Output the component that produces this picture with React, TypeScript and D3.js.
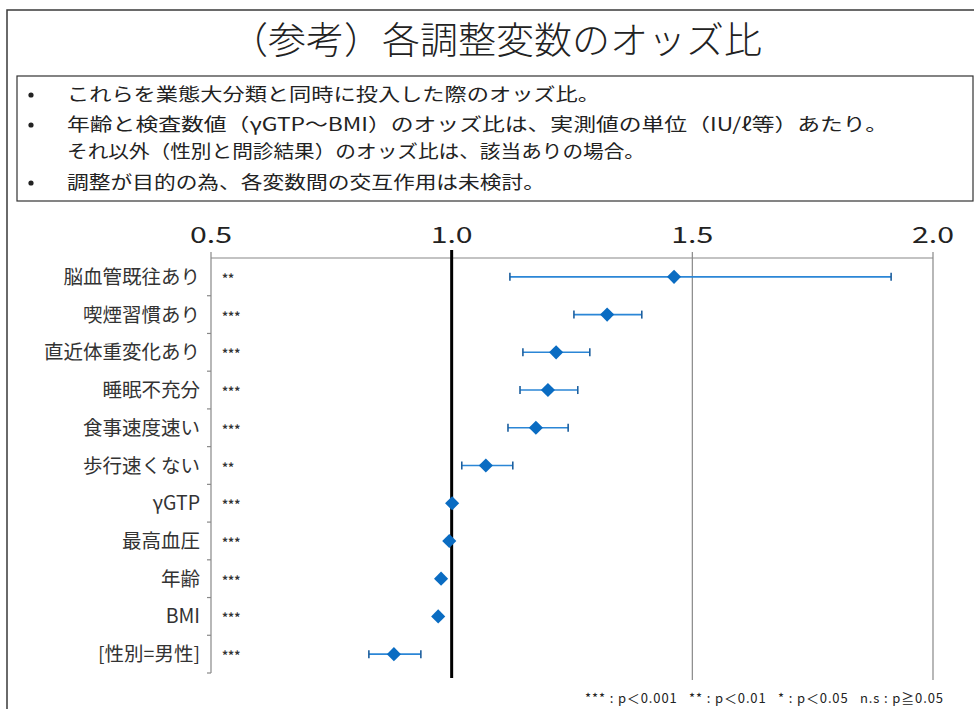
import React from 'react';
import * as d3 from 'd3';

// categories, top to bottom
const categories = [
  '脳血管既往あり', '喫煙習慣あり', '直近体重変化あり', '睡眠不充分', '食事速度速い',
  '歩行速くない', 'γGTP', '最高血圧', '年齢', 'BMI', '[性別=男性]'
];
const oddsRatio = [1.462, 1.323, 1.217, 1.200, 1.175, 1.071, 1.001, 0.995, 0.978, 0.972, 0.880];
const lowerCI = [1.121, 1.254, 1.148, 1.142, 1.117, 1.021, null, null, null, null, 0.828];
const upperCI = [1.913, 1.395, 1.287, 1.262, 1.242, 1.127, null, null, null, null, 0.936];
const signif = ['**', '***', '***', '***', '***', '**', '***', '***', '***', '***', '***'];
const xTicks = [0.5, 1.0, 1.5, 2.0];

const title = '（参考）各調整変数のオッズ比';
const notes = [
  { bullet: true, text: 'これらを業態大分類と同時に投入した際のオッズ比。', len: 533 },
  { bullet: true, text: '年齢と検査数値（γGTP～BMI）のオッズ比は、実測値の単位（IU/ℓ等）あたり。', len: 821 },
  { bullet: false, text: 'それ以外（性別と問診結果）のオッズ比は、該当ありの場合。', len: 578 },
  { bullet: true, text: '調整が目的の為、各変数間の交互作用は未検討。', len: 478 }
];
const noteY = [101, 131, 158, 189];
const legendText = '*** : p＜0.001   ** : p＜0.01   * : p＜0.05   n.s : p≧0.05';

const W = 974;
const H = 709;
const font = '"Noto Sans CJK JP", "Noto Sans", sans-serif';

const App = () => {
  const x = d3.scaleLinear().domain([0.5, 2.0]).range([211, 933]);
  const y = d3.scaleBand().domain(categories).range([258, 673]);
  const top = y.range()[0];
  const bottom = y.range()[1];
  const diamond = d3.symbol().type(d3.symbolSquare).size(100)();

  return (
    <svg width={W} height={H} style={{ display: 'block', position: 'absolute', left: 0, top: 0, background: '#fff' }}>
      {/* outer frame */}
      <rect x={7} y={10} width={1000} height={760} fill="#fff" stroke="#3a3a3a" strokeWidth={1.5} />

      {/* title */}
      <text x={230} y={54} textLength={532} lengthAdjust="spacingAndGlyphs" fontFamily={font} fontSize={37} fontWeight={300} fill="#222">{title}</text>

      {/* note box */}
      <rect x={17} y={76} width={956} height={125} fill="#fff" stroke="#333" strokeWidth={1.2} />
      {notes.map((n, i) => (
        <g key={i}>
          {n.bullet && <circle cx={31} cy={noteY[i] - 6} r={2.6} fill="#222" />}
          <text x={67} y={noteY[i]} textLength={n.len} lengthAdjust="spacingAndGlyphs" fontFamily={font} fontSize={18} fill="#222">{n.text}</text>
        </g>
      ))}

      {/* x tick labels */}
      {xTicks.map(t => (
        <text key={t} x={x(t) - 21} y={243} textLength={42} lengthAdjust="spacingAndGlyphs" fontFamily={font} fontSize={22} fill="#222">
          {t.toFixed(1)}
        </text>
      ))}

      {/* top line */}
      <line x1={x(0.5)} x2={x(2.0)} y1={top} y2={top} stroke="#888" strokeWidth={1.2} />

      {/* grid lines */}
      {xTicks.filter(t => t > 1).map(t => (
        <line key={t} x1={x(t)} x2={x(t)} y1={top - 6} y2={bottom + 7} stroke="#888" strokeWidth={1.2} />
      ))}

      {/* left axis */}
      <line x1={x(0.5)} x2={x(0.5)} y1={top - 6} y2={bottom} stroke="#888" strokeWidth={1.2} />
      {categories.map(c => (
        <line key={c} x1={x(0.5) - 4} x2={x(0.5)} y1={(y(c) || 0) + y.bandwidth()} y2={(y(c) || 0) + y.bandwidth()} stroke="#888" strokeWidth={1.2} />
      ))}

      {/* reference line at 1.0 */}
      <line x1={x(1.0)} x2={x(1.0)} y1={top - 8} y2={bottom + 5} stroke="#000" strokeWidth={3} />

      {/* category labels and stars */}
      {categories.map((c, i) => {
        const cy = (y(c) || 0) + y.bandwidth() / 2;
        return (
          <g key={c}>
            <text x={200} y={cy + 7} textAnchor="end" fontFamily={font} fontSize={19.5} fill="#333">{c}</text>
            <text x={222} y={cy + 6} fontFamily={font} fontSize={12} fontWeight="bold" fill="#333">{signif[i]}</text>
          </g>
        );
      })}

      {/* error bars and points */}
      {categories.map((c, i) => {
        const cy = (y(c) || 0) + y.bandwidth() / 2;
        const lo = lowerCI[i];
        const hi = upperCI[i];
        return (
          <g key={c}>
            {lo !== null && hi !== null && (
              <g>
                <line x1={x(lo)} x2={x(hi)} y1={cy} y2={cy} stroke="#2b86d6" strokeWidth={1.6} />
                <line x1={x(lo)} x2={x(lo)} y1={cy - 4} y2={cy + 4} stroke="#1d5f9e" strokeWidth={1.6} />
                <line x1={x(hi)} x2={x(hi)} y1={cy - 4} y2={cy + 4} stroke="#1d5f9e" strokeWidth={1.6} />
              </g>
            )}
            <path d={diamond || ''} transform={`translate(${x(oddsRatio[i])},${cy}) rotate(45)`} fill="#0a6cc2" />
          </g>
        );
      })}

      {/* significance legend */}
      <text x={585} y={703} textLength={358} fontFamily={font} fontSize={13} fill="#222" style={{ whiteSpace: 'pre' }}>
        {legendText}
      </text>
    </svg>
  );
};

export default App;
